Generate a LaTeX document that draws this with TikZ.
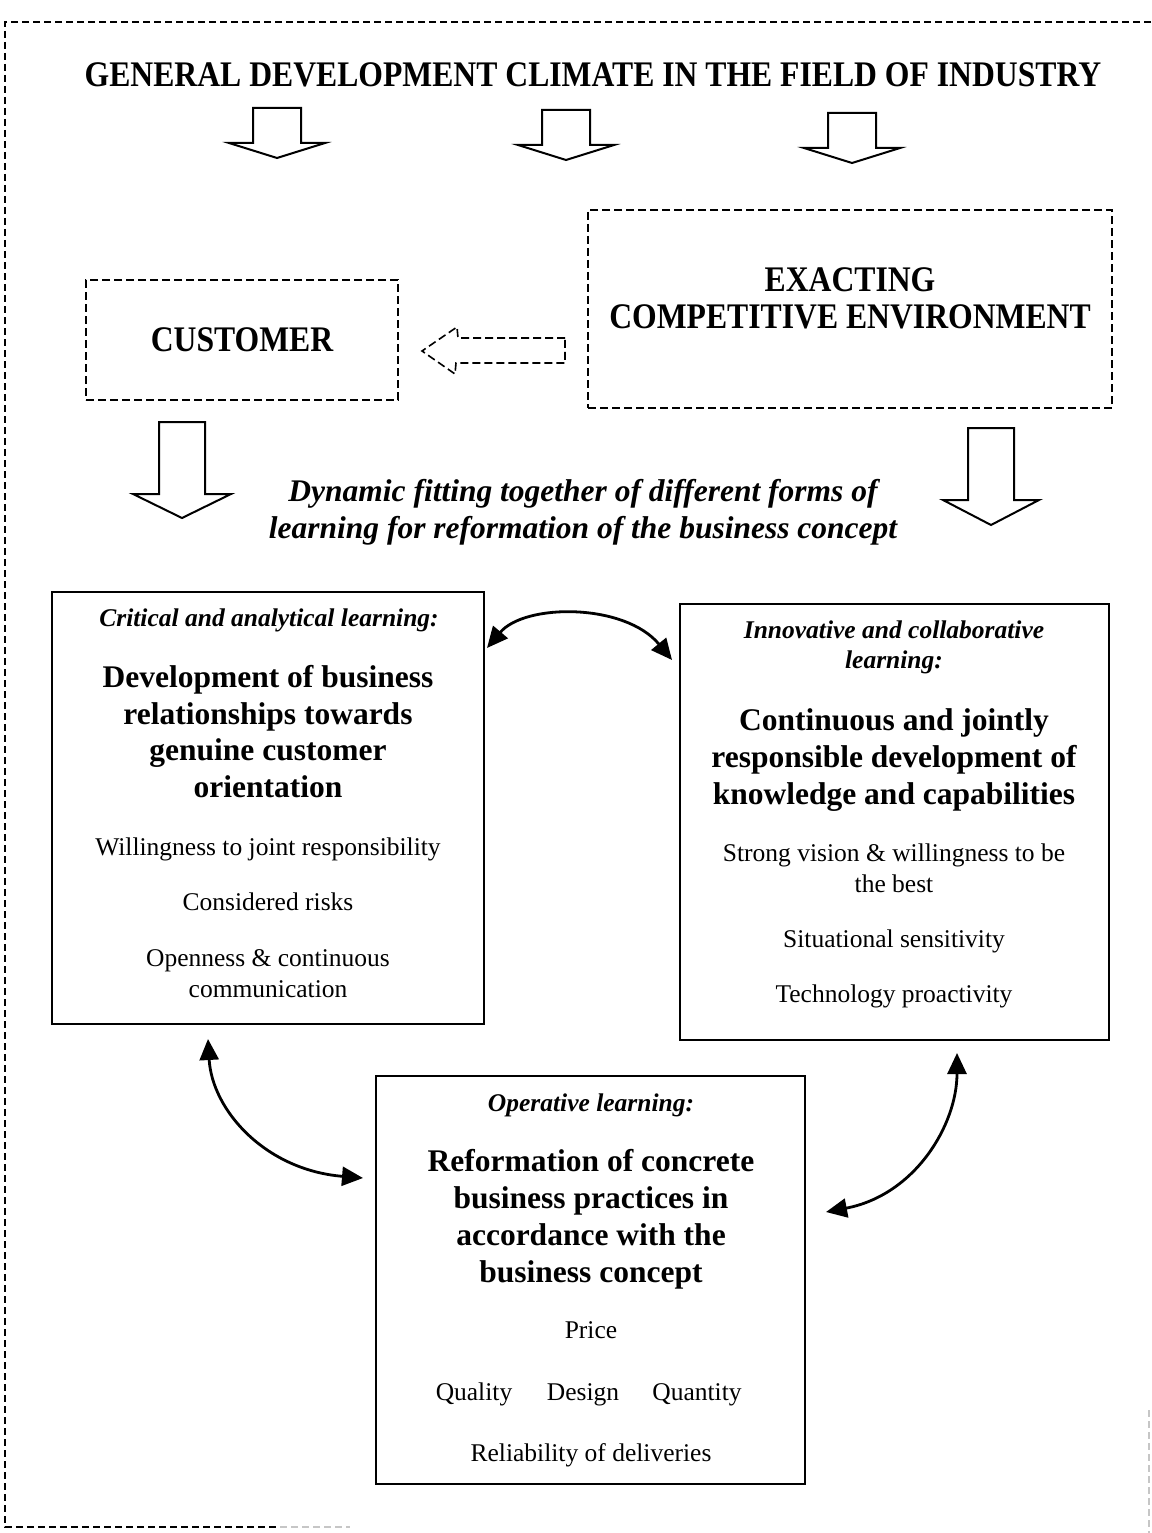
\documentclass[tikz,border=0pt]{standalone}
\usepackage{fontspec}
\setmainfont{Liberation Serif}
\usepackage{graphicx}
\usetikzlibrary{arrows.meta,calc}

% condensed capitals for the headings
\newcommand{\squeezed}[1]{\scalebox{0.88}[1]{#1}}
% outlined block arrow pointing down: centre x, top, shoulder, tip, half shaft, half head
\newcommand{\blockdown}[6]{%
  \draw[blockarrow] (#1-#5,#2) -- (#1+#5,#2) -- (#1+#5,#3) -- (#1+#6,#3)
    -- (#1,#4) -- (#1-#6,#3) -- (#1-#5,#3) -- cycle;}

\begin{document}
\begin{tikzpicture}[x=1pt,y=-1pt,
  frame/.style={draw, line width=1.4pt, dash pattern=on 7pt off 4pt},
  dashbox/.style={draw, line width=1.6pt, dash pattern=on 8pt off 4pt,
    inner sep=0pt, outer sep=0pt},
  solidbox/.style={draw, line width=2.8pt, inner sep=0pt, outer sep=0pt},
  blockarrow/.style={line width=2pt, fill=white, line join=miter},
  dashedarrow/.style={line width=1.6pt, dash pattern=on 8pt off 4pt},
  link/.style={line width=2.8pt,
    {Triangle[length=21pt,width=19pt]}-{Triangle[length=21pt,width=19pt]}},
  caps/.style={font=\fontsize{36}{40}\selectfont\bfseries, anchor=base, inner sep=0pt},
  lead/.style={font=\fontsize{31.5}{35}\selectfont\bfseries\itshape, anchor=base, inner sep=0pt},
  kind/.style={font=\fontsize{25.5}{29}\selectfont\bfseries\itshape, anchor=base, inner sep=0pt},
  topic/.style={font=\fontsize{31.5}{35}\selectfont\bfseries, anchor=base, inner sep=0pt},
  item/.style={font=\fontsize{25.5}{29}\selectfont, anchor=base, inner sep=0pt},
]
\useasboundingbox (0,0) rectangle (1151,1533);
\fill[white] (0,0) rectangle (1151,1533);

% outer dashed frame
\draw[frame] (1151,22) -- (5,22) -- (5,1527) -- (280,1527);
\draw[frame, gray!45] (280,1527) -- (350,1527);
\draw[frame, gray!45] (1149,1410) -- (1149,1533);

% heading and the three arrows below it
\node[caps] (climate) at (593,87) {\squeezed{GENERAL DEVELOPMENT CLIMATE IN THE FIELD OF INDUSTRY}};
\blockdown{277}{108}{143}{158}{24}{48}
\blockdown{566}{110}{145}{160}{24}{48}
\blockdown{852}{113}{148}{163}{24}{48}

% customer and competitive environment
\node[dashbox, minimum width=312pt, minimum height=120pt] (customer) at (242,340) {};
\node[caps] (customertxt) at (242,351) {\squeezed{CUSTOMER}};
\node[dashbox, minimum width=524pt, minimum height=198pt] (environment) at (850,309) {};
\node[caps] (envtxt1) at (850,291) {\squeezed{EXACTING}};
\node[caps] (envtxt2) at (850,328) {\squeezed{COMPETITIVE ENVIRONMENT}};
\draw[dashedarrow] (565,338) -- (458,338) -- (457,327) -- (422,351)
  -- (455,374) -- (456,363) -- (565,363) -- cycle;

% big arrows towards the learning forms
\blockdown{182}{422}{494}{518}{23}{49}
\blockdown{991}{428}{500}{525}{23}{48}
\node[lead] (fit1) at (583,501) {Dynamic fitting together of different forms of};
\node[lead] (fit2) at (583,538) {learning for reformation of the business concept};

% critical and analytical learning
\node[solidbox, minimum width=432pt, minimum height=432pt] (crit) at (268,808) {};
\node[kind]  (crit0) at (269,626) {Critical and analytical learning:};
\node[topic] (crit1) at (268,687) {Development of business};
\node[topic] (crit2) at (268,724) {relationships towards};
\node[topic] (crit3) at (268,760) {genuine customer};
\node[topic] (crit4) at (268,797) {orientation};
\node[item]  (crit5) at (268,855) {Willingness to joint responsibility};
\node[item]  (crit6) at (268,910) {Considered risks};
\node[item]  (crit7) at (268,966) {Openness \& continuous};
\node[item]  (crit8) at (268,997) {communication};

% innovative and collaborative learning
\node[solidbox, minimum width=429pt, minimum height=436pt] (innov) at (894.5,822) {};
\node[kind]  (innov0) at (894,638) {Innovative and collaborative};
\node[kind]  (innov1) at (894,668) {learning:};
\node[topic] (innov2) at (894,730) {Continuous and jointly};
\node[topic] (innov3) at (894,767) {responsible development of};
\node[topic] (innov4) at (894,804) {knowledge and capabilities};
\node[item]  (innov5) at (894,861) {Strong vision \& willingness to be};
\node[item]  (innov6) at (894,892) {the best};
\node[item]  (innov7) at (894,947) {Situational sensitivity};
\node[item]  (innov8) at (894,1002) {Technology proactivity};

% operative learning
\node[solidbox, minimum width=429pt, minimum height=408pt] (oper) at (590.5,1280) {};
\node[kind]  (oper0) at (591,1111) {Operative learning:};
\node[topic] (oper1) at (591,1171) {Reformation of concrete};
\node[topic] (oper2) at (591,1208) {business practices in};
\node[topic] (oper3) at (591,1245) {accordance with the};
\node[topic] (oper4) at (591,1282) {business concept};
\node[item]  (oper5) at (591,1338) {Price};
\node[item]  (oper6) at (474,1400) {Quality};
\node[item]  (oper7) at (583,1400) {Design};
\node[item]  (oper8) at (697,1400) {Quantity};
\node[item]  (oper9) at (591,1461) {Reliability of deliveries};

% mutual links between the learning forms
\draw[link] ($(crit.north east)+(3,56)$)
  .. controls ($(crit.north east)+(41,11)$) and ($(innov.north west)+(-55,-1)$)
  .. ($(innov.north west)+(-8,56)$);
\draw[link] ($(crit.south west)+(156,15)$)
  .. controls ($(crit.south west)+(160,86)$) and ($(oper.north west)+(-111,94)$)
  .. ($(oper.north west)+(-13,102)$);
\draw[link] ($(innov.south west)+(277,13)$)
  .. controls ($(innov.south west)+(277,85)$) and ($(oper.north east)+(110,119)$)
  .. ($(oper.north east)+(21,136)$);
\end{tikzpicture}
\end{document}
